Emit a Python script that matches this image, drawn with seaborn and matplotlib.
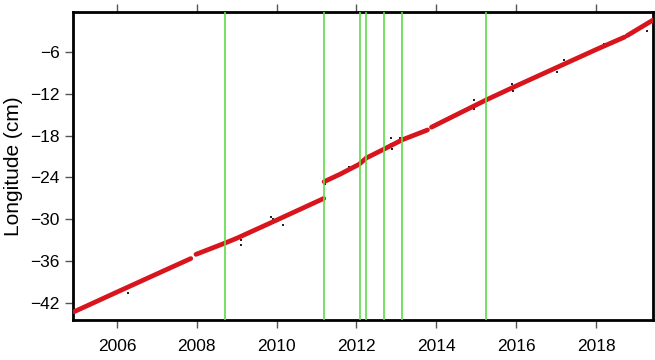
import numpy as np
import pandas as pd
import matplotlib
matplotlib.use("Agg")
import matplotlib.pyplot as plt
import seaborn as sns

# fitted position, one list per continuous piece
seg_years = [
    [2004.93, 2006.0, 2007.0, 2007.85],
    [2007.98, 2008.7, 2009.0, 2010.0, 2011.18],
    [2011.19, 2011.6, 2012.07, 2012.25, 2012.67, 2013.15, 2013.78],
    [2013.88, 2014.3, 2015.25, 2016.0, 2017.0, 2018.0, 2018.72],
    [2018.78, 2019.42],
]
seg_values = [
    [-43.2, -40.4, -37.8, -35.6],
    [-35.0, -33.4, -32.7, -30.1, -27.0],
    [-24.6, -23.5, -22.1, -21.2, -20.0, -18.6, -17.2],
    [-16.8, -15.6, -12.9, -10.9, -8.3, -5.7, -3.9],
    [-3.7, -1.5],
]

# raw daily outliers that poke out from under the fit
raw_years = [2005.48, 2006.27, 2007.1, 2009.12, 2009.12, 2009.87, 2009.9,
             2010.15, 2011.22, 2011.82, 2012.87, 2012.87, 2012.9, 2013.1,
             2014.95, 2014.95, 2015.9, 2015.92, 2016.9, 2017.0, 2017.02,
             2017.2, 2018.2, 2018.6, 2019.28]
raw_values = [-41.8, -40.6, -37.5, -32.9, -33.6, -29.6, -30.0,
              -30.8, -25.0, -22.5, -18.4, -19.2, -19.9, -18.4,
              -12.9, -14.2, -10.6, -11.6, -8.5, -8.2, -8.9,
              -7.2, -4.9, -4.1, -3.0]

# event epochs (green lines)
events = [2008.70, 2011.19, 2012.08, 2012.25, 2012.68, 2013.15, 2015.25]

yticks = [-42, -36, -30, -24, -18, -12, -6]
xticks = [2006, 2008, 2010, 2012, 2014, 2016, 2018]

fit = pd.DataFrame({
    "year": [y for seg in seg_years for y in seg],
    "lon": [v for seg in seg_values for v in seg],
    "piece": [i for i, seg in enumerate(seg_years) for _ in seg],
})
raw = pd.DataFrame({"year": raw_years, "lon": raw_values})

sns.set_style("ticks")
plt.rcParams["font.family"] = ["Liberation Sans", "DejaVu Sans"]

fig = plt.figure(figsize=(6.55, 3.6), dpi=100)
ax = fig.add_axes([0.1115, 0.111, 0.8855, 0.856])

sns.scatterplot(data=raw, x="year", y="lon", color="#222222", s=4,
                marker="s", linewidth=0, ax=ax, zorder=2)
sns.lineplot(data=fit, x="year", y="lon", units="piece", estimator=None,
             color="#d8141c", linewidth=3.4, ax=ax, zorder=3, legend=False)
for ev in events:
    ax.axvline(ev, color="#5fdc4a", linewidth=1.2, zorder=4)

ax.set_xlim(2004.9, 2019.43)
ax.set_ylim(-44.4, -0.3)
ax.set_xticks(xticks)
ax.set_yticks(yticks)
ax.set_xlabel("")
ax.set_ylabel("Longitude (cm)", fontsize=15, labelpad=5, color="black")
ax.tick_params(axis="both", labelsize=12.5, length=6, width=1, direction="out",
               color="#555555", labelcolor="black")
ax.tick_params(axis="x", top=True, labeltop=False, pad=8)
for sp in ax.spines.values():
    sp.set_linewidth(2)
    sp.set_color("black")
    sp.set_visible(True)

fig.savefig("out.png", dpi=100)
plt.close(fig)
